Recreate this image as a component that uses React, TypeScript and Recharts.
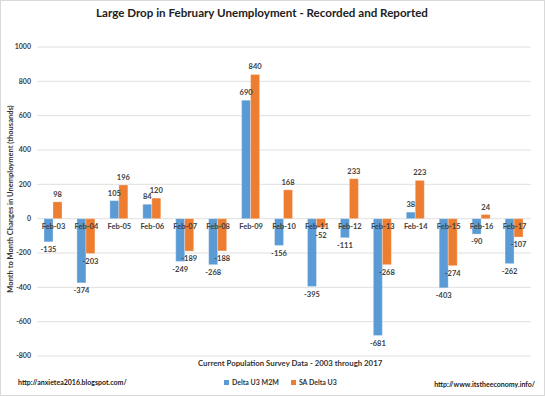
import { ComposedChart, Bar, Line, XAxis, YAxis, CartesianGrid, LabelList } from 'recharts';

const months = ['Feb-03', 'Feb-04', 'Feb-05', 'Feb-06', 'Feb-07', 'Feb-08', 'Feb-09', 'Feb-10', 'Feb-11', 'Feb-12', 'Feb-13', 'Feb-14', 'Feb-15', 'Feb-16', 'Feb-17'];
const deltaM2M = [-135, -374, 105, 84, -249, -268, 690, -156, -395, -111, -681, 38, -403, -90, -262];
const saDelta = [98, -203, 196, 120, -189, -188, 840, 168, -52, 233, -268, 223, -274, 24, -107];
const yTicks = [-800, -600, -400, -200, 0, 200, 400, 600, 800, 1000];

const BLUE = '#5B9BD5';
const ORANGE = '#ED7D31';
const FONT = 'Lato, "Open Sans", sans-serif';

const data = months.map((month, i) => ({ month, m2m: deltaM2M[i], sa: saDelta[i] }));

const labelStyle = { fontSize: 7.5, fontWeight: 700, fill: '#404040', fontFamily: FONT };

const App = () => {
    return (
        <div style={{ position: 'absolute', left: 0, top: 0, width: 545, height: 396, background: '#fff', fontFamily: FONT }}>
            <ComposedChart
                width={545}
                height={396}
                data={data}
                margin={{ top: 47, right: 14, bottom: 40, left: 0 }}
                barGap={0}
            >
                <CartesianGrid vertical={false} stroke="#e0e0e0" />
                <XAxis dataKey="month" hide />
                <YAxis
                    domain={[-800, 1000]}
                    ticks={yTicks}
                    width={37}
                    axisLine={false}
                    tickLine={false}
                    tickSize={0}
                    tickMargin={6}
                    tick={{ fontSize: 7, fontWeight: 700, fill: '#404040', fontFamily: FONT }}
                />
                <Bar dataKey="m2m" name="Delta U3 M2M" fill={BLUE} stroke="#fff" strokeOpacity={0.6} strokeWidth={0.5} barSize={9} isAnimationActive={false}>
                    <LabelList dataKey="m2m" position="top" offset={5} style={labelStyle} />
                </Bar>
                <Bar dataKey="sa" name="SA Delta U3" fill={ORANGE} stroke="#fff" strokeOpacity={0.6} strokeWidth={0.5} barSize={9} isAnimationActive={false}>
                    <LabelList dataKey="sa" position="top" offset={5} style={labelStyle} />
                </Bar>
                <Line dataKey={() => 0} stroke="none" dot={false} activeDot={false} legendType="none" isAnimationActive={false}>
                    <LabelList dataKey="month" position="bottom" offset={5} style={labelStyle} />
                </Line>
            </ComposedChart>

            <div style={{ position: 'absolute', top: 6, left: 0, width: 524, textAlign: 'center', fontSize: 11.6, fontWeight: 700, color: '#222' }}>
                Large Drop in February Unemployment - Recorded and Reported
            </div>
            <div style={{ position: 'absolute', left: 10, top: 199, width: 0, height: 0 }}>
                <div style={{ position: 'absolute', transform: 'translate(-50%, -50%) rotate(-90deg)', whiteSpace: 'nowrap', fontSize: 7.5, fontWeight: 700, color: '#333' }}>
                    Month to Month Changes in Unemployment (thousands)
                </div>
            </div>
            <div style={{ position: 'absolute', top: 358, left: 198, width: 174, textAlign: 'center', whiteSpace: 'nowrap', fontSize: 7.8, fontWeight: 700, color: '#333' }}>
                Current Population Survey Data - 2003 through 2017
            </div>
            <div style={{ position: 'absolute', top: 378, left: 224, display: 'flex', alignItems: 'center', fontSize: 7, fontWeight: 700, color: '#333', whiteSpace: 'nowrap' }}>
                <span style={{ display: 'inline-block', width: 5, height: 5, background: BLUE, marginRight: 3 }} />
                <span style={{ marginRight: 12 }}>Delta U3 M2M</span>
                <span style={{ display: 'inline-block', width: 5, height: 5, background: ORANGE, marginRight: 3 }} />
                <span>SA Delta U3</span>
            </div>
            <div style={{ position: 'absolute', top: 378, left: 18, fontSize: 7, fontWeight: 700, color: '#222' }}>
                http://anxietea2016.blogspot.com/
            </div>
            <div style={{ position: 'absolute', top: 380, right: 10, fontSize: 7, fontWeight: 700, color: '#222' }}>
                http://www.itstheeconomy.info/
            </div>
            <div style={{ position: 'absolute', inset: 0, border: '1px solid #d9d9d9', pointerEvents: 'none' }} />
        </div>
    );
};

export default App;
